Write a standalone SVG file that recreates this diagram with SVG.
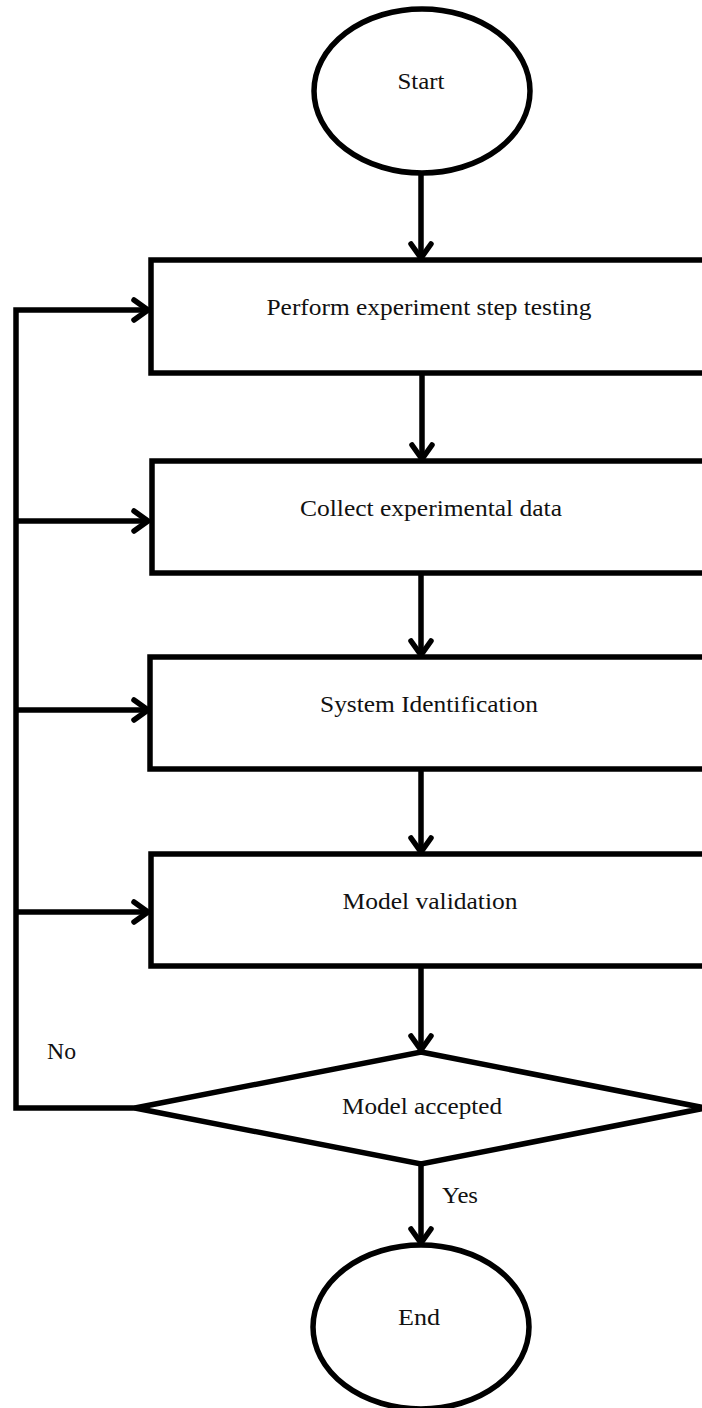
<svg xmlns="http://www.w3.org/2000/svg" width="702" height="1408" viewBox="0 0 702 1408">
<style>
.shape{fill:#fff;stroke:#000;stroke-width:5.5}
.line{fill:none;stroke:#000;stroke-width:5.5}
.head{fill:none;stroke:#000;stroke-width:5.5;stroke-linecap:round;stroke-linejoin:miter}
text{font-family:"Liberation Serif","Times New Roman",serif;font-size:24px;fill:#111}
.c{text-anchor:middle}
</style>
<rect width="702" height="1408" fill="#fff"/>
<g id="connectors">
<path class="line" d="M421 173V258"/>
<path class="head" d="M411 244L421 258L431 244"/>
<path class="line" d="M422 373V459"/>
<path class="head" d="M412 445L422 459L432 445"/>
<path class="line" d="M421 573V655"/>
<path class="head" d="M411 641L421 655L431 641"/>
<path class="line" d="M421 769V852"/>
<path class="head" d="M411 838L421 852L431 838"/>
<path class="line" d="M421 966V1050"/>
<path class="head" d="M411 1036L421 1050L431 1036"/>
<path class="line" d="M421 1164V1243"/>
<path class="head" d="M411 1229L421 1243L431 1229"/>
<path class="line" d="M135 1108H16V310H148"/>
<path class="head" d="M134 300L148 310L134 320"/>
<path class="line" d="M16 521H148"/>
<path class="head" d="M134 511L148 521L134 531"/>
<path class="line" d="M16 710H148"/>
<path class="head" d="M134 700L148 710L134 720"/>
<path class="line" d="M16 912H148"/>
<path class="head" d="M134 902L148 912L134 922"/>
<text x="47" y="1059" textLength="29" lengthAdjust="spacingAndGlyphs">No</text>
<text x="442" y="1203" textLength="36" lengthAdjust="spacingAndGlyphs">Yes</text>
</g>
<g id="start">
<ellipse class="shape" cx="422" cy="91" rx="108" ry="82"/>
<text x="421" y="89" class="c" textLength="47" lengthAdjust="spacingAndGlyphs">Start</text>
</g>
<g id="step1">
<rect class="shape" x="151" y="260" width="580" height="113"/>
<text x="429" y="315" class="c" textLength="325" lengthAdjust="spacingAndGlyphs">Perform experiment step testing</text>
</g>
<g id="step2">
<rect class="shape" x="152" y="461" width="580" height="112"/>
<text x="431" y="516" class="c" textLength="262" lengthAdjust="spacingAndGlyphs">Collect experimental data</text>
</g>
<g id="step3">
<rect class="shape" x="150" y="657" width="580" height="112"/>
<text x="429" y="712" class="c" textLength="218" lengthAdjust="spacingAndGlyphs">System Identification</text>
</g>
<g id="step4">
<rect class="shape" x="151" y="854" width="580" height="112"/>
<text x="430" y="909" class="c" textLength="175" lengthAdjust="spacingAndGlyphs">Model validation</text>
</g>
<g id="decision">
<polygon class="shape" points="421,1052 705,1108 421,1164 135,1108"/>
<text x="422" y="1114" class="c" textLength="160" lengthAdjust="spacingAndGlyphs">Model accepted</text>
</g>
<g id="end">
<ellipse class="shape" cx="421" cy="1327" rx="108" ry="82"/>
<text x="419" y="1325" class="c" textLength="42" lengthAdjust="spacingAndGlyphs">End</text>
</g>
</svg>
